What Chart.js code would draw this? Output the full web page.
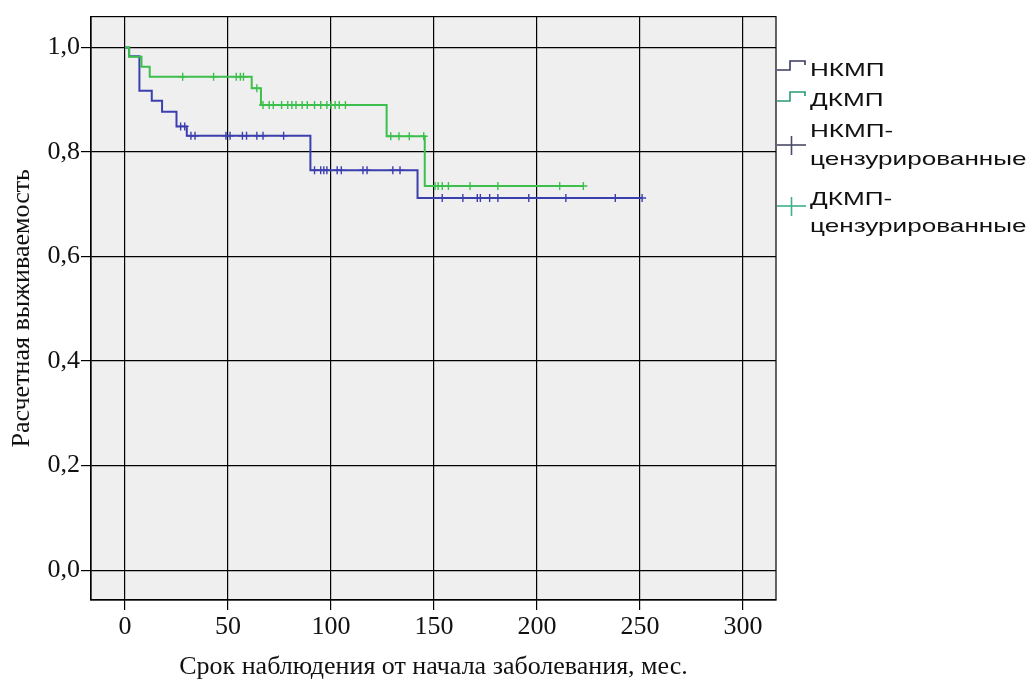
<!DOCTYPE html>
<html><head><meta charset="utf-8">
<script src="https://cdn.jsdelivr.net/npm/chart.js@4.4.1/dist/chart.umd.min.js"></script>
<style>
html,body{margin:0;padding:0;background:#fff;}
#wrap{position:relative;width:1032px;height:679px;overflow:hidden;}
#c{position:absolute;left:0;top:0;}
.lt{position:absolute;left:810px;font-family:"Liberation Sans",Arial,sans-serif;font-size:19px;line-height:22px;height:22px;color:#111;white-space:nowrap;transform-origin:0 50%;transform:scaleX(1.375);}
#icons{position:absolute;left:0;top:0;}
</style></head><body>
<div id="wrap">
<canvas id="c" width="1032" height="679"></canvas>
<svg id="icons" width="1032" height="679">
  <polyline points="777,70 790,70 790,61 805,61 805,65" fill="none" stroke="#3a3a62" stroke-width="1.6"/>
  <polyline points="777,101 790,101 790,92 805,92 805,96" fill="none" stroke="#2a9a72" stroke-width="1.6"/>
  <line x1="777" y1="145" x2="806" y2="145" stroke="#4a4a6a" stroke-width="1.6"/>
  <line x1="791.5" y1="136" x2="791.5" y2="155" stroke="#4a4a6a" stroke-width="1.6"/>
  <line x1="777" y1="206" x2="806" y2="206" stroke="#3fb08c" stroke-width="1.6"/>
  <line x1="791.5" y1="197" x2="791.5" y2="216" stroke="#3fb08c" stroke-width="1.6"/>
</svg>
<div class="lt" style="top:59px">НКМП</div>
<div class="lt" style="top:89px">ДКМП</div>
<div class="lt" style="top:120px">НКМП-</div>
<div class="lt" style="top:148px">цензурированные</div>
<div class="lt" style="top:188px">ДКМП-</div>
<div class="lt" style="top:215px">цензурированные</div>
</div>
<script>
// Kaplan–Meier: НКМП
const timesN = [0, 2, 7, 13, 18, 25, 30, 90, 142, 251];
const survN  = [1.0, 0.983, 0.917, 0.898, 0.877, 0.849, 0.831, 0.765, 0.712, 0.712];
const censN  = [27, 29, 32, 34, 49, 51, 57, 59, 64, 67, 77, 92, 95, 96.5, 98, 103, 105, 115.5, 117.5, 130, 133.5, 154, 164, 171, 172.5, 177, 181, 196, 214, 238, 251];
// Kaplan–Meier: ДКМП
const timesD = [0, 2, 8, 12, 61.5, 66, 127, 145.5, 222.5];
const survD  = [1.0, 0.982, 0.963, 0.944, 0.922, 0.890, 0.830, 0.735, 0.735];
const censD  = [28, 43, 54, 56, 57.5, 64, 67, 70, 72, 76, 79, 81, 83, 86, 88.5, 92, 95, 98, 100, 102, 104, 107, 129, 133, 138, 145, 150.5, 152, 154, 157, 167.5, 181, 211, 222.5];
const xTicks = [0, 50, 100, 150, 200, 250, 300];
const yTicks = [0, 0.2, 0.4, 0.6, 0.8, 1.0];
const seriesNames = ['НКМП', 'ДКМП', 'НКМП-цензурированные', 'ДКМП-цензурированные'];
const xTitle = 'Срок наблюдения от начала заболевания, мес.';
const yTitle = 'Расчетная выживаемость';

const BLUE = '#3b3fae', GREEN = '#3cbf4c';
function sAt(times, surv, t){ let s = surv[0]; for (let i=0;i<times.length;i++){ if (times[i] <= t) s = surv[i]; } return s; }
const pts = (ts, ss) => ts.map((t,i)=>({x:t, y:ss[i]}));

const bgPlugin = {
  id:'bg',
  beforeDraw(chart){ const a=chart.chartArea, c=chart.ctx; c.save(); c.fillStyle='#efefef'; c.fillRect(a.left,a.top,a.right-a.left,a.bottom-a.top); c.restore(); },
  afterDraw(chart){ const a=chart.chartArea, c=chart.ctx; c.save(); c.strokeStyle='#000'; c.lineWidth=1.2; c.strokeRect(a.left,a.top,a.right-a.left,a.bottom-a.top); c.restore(); }
};
const serif = '"Liberation Serif","Times New Roman",serif';
new Chart(document.getElementById('c'), {
  type:'line',
  data:{ datasets:[
    {label:seriesNames[0], data:pts(timesN,survN), stepped:'before', borderColor:BLUE, borderWidth:2, pointRadius:0, fill:false, order:2},
    {label:seriesNames[1], data:pts(timesD,survD), stepped:'before', borderColor:GREEN, borderWidth:2, pointRadius:0, fill:false, order:1},
    {label:seriesNames[2], data:censN.map(t=>({x:t,y:sAt(timesN,survN,t)})), showLine:false, pointStyle:'cross', pointRadius:4, pointBorderWidth:1.4, borderColor:BLUE, backgroundColor:BLUE, order:2},
    {label:seriesNames[3], data:censD.map(t=>({x:t,y:sAt(timesD,survD,t)})), showLine:false, pointStyle:'cross', pointRadius:4, pointBorderWidth:1.4, borderColor:GREEN, backgroundColor:GREEN, order:1}
  ]},
  options:{
    responsive:false, animation:false, devicePixelRatio:1,
    layout:{padding:{left:0,right:256,top:13,bottom:0}},
    plugins:{legend:{display:false}, tooltip:{enabled:false}},
    scales:{
      x:{type:'linear', min:-16.5, max:316,
        afterBuildTicks:s=>{ s.ticks = xTicks.map(v=>({value:v})); },
        afterFit:s=>{ s.height = 79; },
        grid:{color:'#000', lineWidth:1.2, drawTicks:true, tickLength:10, tickColor:'#000'},
        border:{display:true, color:'#000', width:1.2},
        ticks:{color:'#111', font:{family:serif, size:26}, padding:2, maxRotation:0, callback:v=>String(v)},
        title:{display:true, text:xTitle, color:'#111', font:{family:serif, size:26, lineHeight:0.9}, padding:{top:0,bottom:0}}
      },
      y:{type:'linear', min:-0.057, max:1.059,
        afterBuildTicks:s=>{ s.ticks = yTicks.map(v=>({value:v})); },
        afterFit:s=>{ s.width = 91; },
        grid:{color:'#000', lineWidth:1.2, drawTicks:true, tickLength:10, tickColor:'#000'},
        border:{display:true, color:'#000', width:1.2},
        ticks:{color:'#111', font:{family:serif, size:26}, padding:1, callback:v=>v.toFixed(1).replace('.', ',')},
        title:{display:true, text:yTitle, color:'#111', font:{family:serif, size:26, lineHeight:0.9}, padding:{top:10,bottom:0}}
      }
    }
  },
  plugins:[bgPlugin]
});
</script>
</body></html>
